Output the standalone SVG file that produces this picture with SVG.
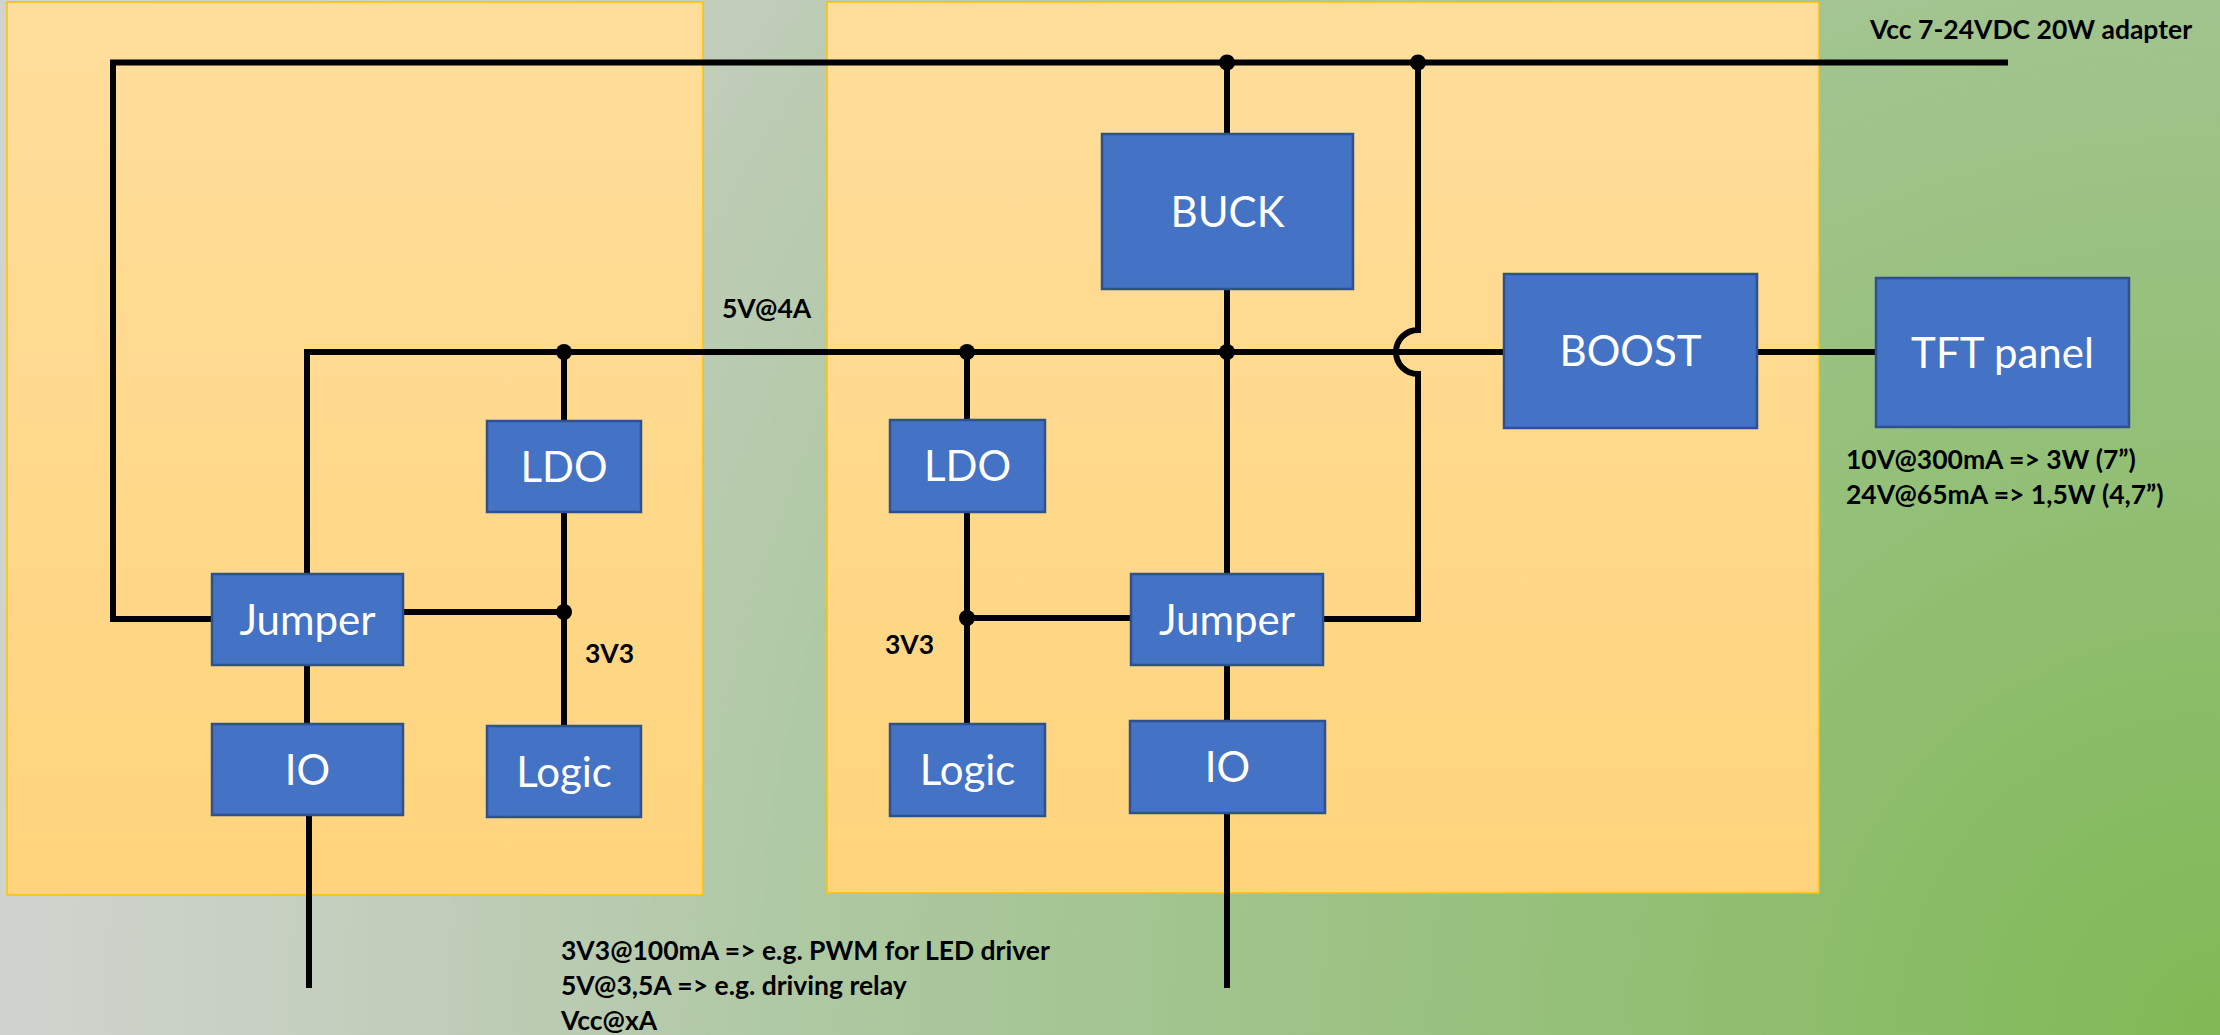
<svg xmlns="http://www.w3.org/2000/svg" width="2220" height="1035" viewBox="0 0 2220 1035">
<defs>
<radialGradient id="bg" gradientUnits="userSpaceOnUse" cx="2220" cy="1035" r="2350">
<stop offset="0" stop-color="#80b955"/>
<stop offset="0.44" stop-color="#a1c48e"/>
<stop offset="0.62" stop-color="#b0c9a5"/>
<stop offset="0.76" stop-color="#c0cdb9"/>
<stop offset="0.93" stop-color="#cfd3cd"/>
<stop offset="1" stop-color="#d0d4ce"/>
</radialGradient>
<linearGradient id="panel" x1="0" y1="0" x2="0" y2="1">
<stop offset="0" stop-color="#ffde9c"/>
<stop offset="1" stop-color="#ffd47c"/>
</linearGradient>
<style>
.panel{fill:url(#panel);stroke:#ffc000;stroke-width:1.5}
.box{fill:#4472c4;stroke:#2f528f;stroke-width:2.5}
.lbl{font-family:Lato,"Open Sans","Liberation Sans",sans-serif;font-size:42px;fill:#ffffff;text-anchor:middle}
.note{font-family:Lato,"Open Sans","Liberation Sans",sans-serif;font-size:26.5px;font-weight:bold;fill:#000000}
.wire{fill:none;stroke:#000000;stroke-width:6}
.dot{fill:#000000}
</style>
</defs>
<rect x="0" y="0" width="2220" height="1035" fill="url(#bg)"/>
<g id="panel-left"><rect class="panel" x="7" y="2" width="696" height="893"/></g>
<g id="panel-right"><rect class="panel" x="827" y="2" width="992" height="891"/></g>

<g id="connectors">
<path class="wire" d="M212,619 H113 V62.5 H2008"/>
<path class="wire" d="M1227,62.5 V134"/>
<path class="wire" d="M1227,289 V574"/>
<path class="wire" d="M307,574 V352 H1504"/>
<path class="wire" d="M564,352 V421"/>
<path class="wire" d="M564,512 V726"/>
<path class="wire" d="M403,612 H564"/>
<path class="wire" d="M307,665 V724"/>
<path class="wire" d="M309,815 V988"/>
<path class="wire" d="M967,352 V420"/>
<path class="wire" d="M967,512 V724"/>
<path class="wire" d="M967,618 H1131"/>
<path class="wire" d="M1227,665 V721"/>
<path class="wire" d="M1227,813 V988"/>
<path class="wire" d="M1418,62.5 V330 A22,22 0 0 0 1418,374 V619 H1323"/>
<path class="wire" d="M1757,352 H1876"/>
<circle class="dot" cx="1227" cy="62.5" r="8"/>
<circle class="dot" cx="1418" cy="62.5" r="8"/>
<circle class="dot" cx="564" cy="352" r="8"/>
<circle class="dot" cx="967" cy="352" r="8"/>
<circle class="dot" cx="1227" cy="352" r="8"/>
<circle class="dot" cx="564" cy="612" r="8"/>
<circle class="dot" cx="967" cy="618" r="8"/>
</g>

<g id="buck"><rect class="box" x="1102" y="134" width="251" height="155"/><text class="lbl" x="1227.5" y="227">BUCK</text></g>
<g id="boost"><rect class="box" x="1504" y="274" width="253" height="154"/><text class="lbl" x="1630.5" y="366">BOOST</text></g>
<g id="tft"><rect class="box" x="1876" y="278" width="253" height="149"/><text class="lbl" x="2002.5" y="368">TFT panel</text></g>
<g id="ldo-left"><rect class="box" x="487" y="421" width="154" height="91"/><text class="lbl" x="564" y="482">LDO</text></g>
<g id="ldo-right"><rect class="box" x="890" y="420" width="155" height="92"/><text class="lbl" x="967.5" y="481">LDO</text></g>
<g id="jumper-left"><rect class="box" x="212" y="574" width="191" height="91"/><text class="lbl" x="307.5" y="635">Jumper</text></g>
<g id="jumper-right"><rect class="box" x="1131" y="574" width="192" height="91"/><text class="lbl" x="1227" y="635">Jumper</text></g>
<g id="io-left"><rect class="box" x="212" y="724" width="191" height="91"/><text class="lbl" x="307.5" y="785">IO</text></g>
<g id="io-right"><rect class="box" x="1130" y="721" width="195" height="92"/><text class="lbl" x="1227.5" y="782">IO</text></g>
<g id="logic-left"><rect class="box" x="487" y="726" width="154" height="91"/><text class="lbl" x="564" y="787">Logic</text></g>
<g id="logic-right"><rect class="box" x="890" y="724" width="155" height="92"/><text class="lbl" x="967.5" y="785">Logic</text></g>

<g id="notes">
<text class="note" x="1870" y="39">Vcc 7-24VDC 20W adapter</text>
<text class="note" x="722" y="318">5V@4A</text>
<text class="note" x="585" y="663">3V3</text>
<text class="note" x="885" y="654">3V3</text>
<text class="note" x="1846" y="469">10V@300mA =&gt; 3W (7”)</text>
<text class="note" x="1846" y="504">24V@65mA =&gt; 1,5W (4,7”)</text>
<text class="note" x="561" y="960">3V3@100mA =&gt; e.g. PWM for LED driver</text>
<text class="note" x="561" y="995">5V@3,5A =&gt; e.g. driving relay</text>
<text class="note" x="561" y="1030">Vcc@xA</text>
</g>
</svg>
